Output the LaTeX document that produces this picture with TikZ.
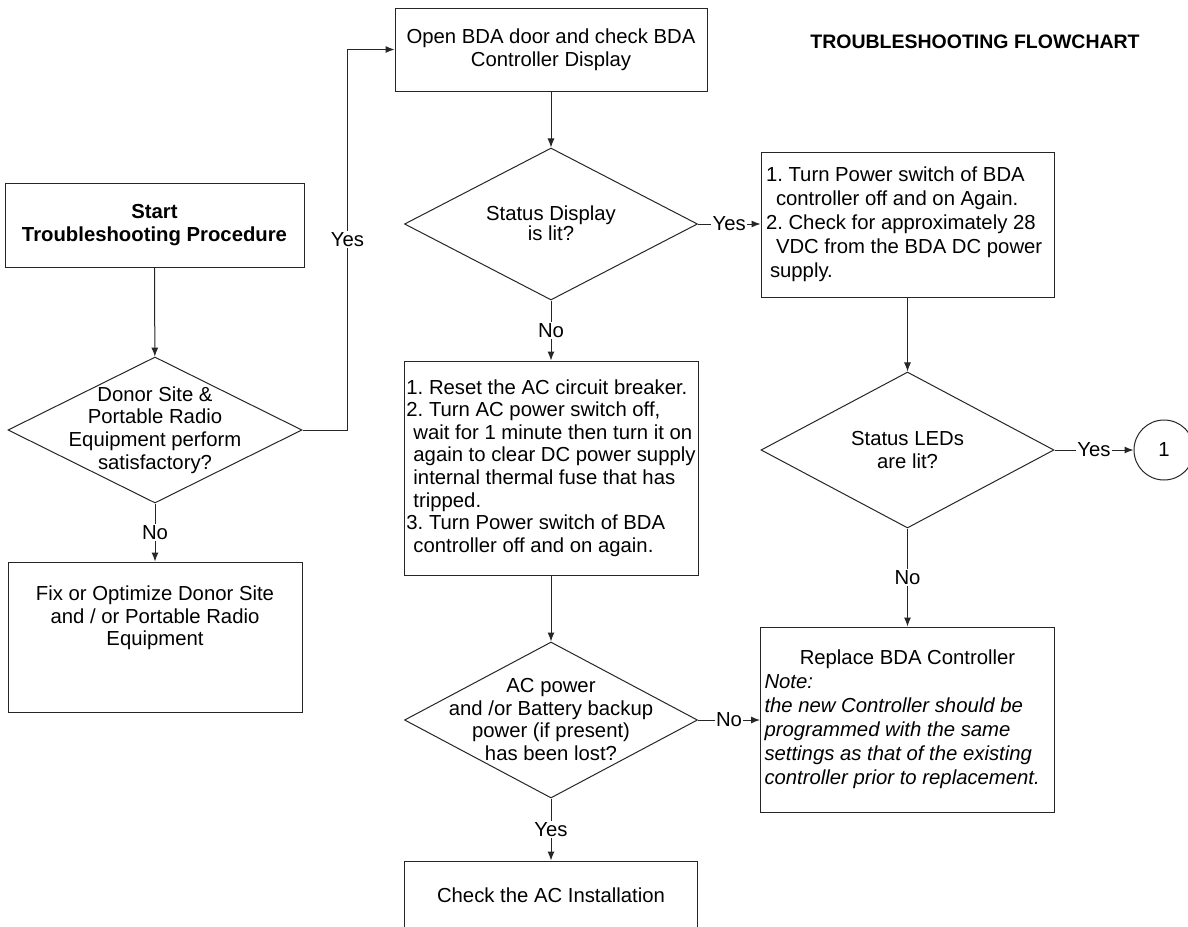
\documentclass[tikz,border=0pt]{standalone}
\usepackage{fontspec}
\setmainfont{Liberation Sans}
\usetikzlibrary{shapes.geometric,arrows.meta}
\newcommand{\fs}{\fontsize{20.3pt}{22.6pt}\selectfont\frenchspacing}
\newcommand{\fsw}{\fontsize{20.3pt}{24pt}\selectfont\frenchspacing}
\begin{document}
\begin{tikzpicture}[x=1pt,y=-1pt,
 line width=1pt,
 box/.style={draw=black!85, rectangle, inner sep=0pt, font=\fs, align=center},
 dia/.style={draw=black!85, diamond, inner sep=0pt},
 txt/.style={font=\fs, align=center, inner sep=0pt},
 arr/.style={draw=black!85, -{Latex[length=9pt,width=7pt]}},
 lab/.style={fill=white, font=\fs, inner sep=1.5pt},
]
\clip (0,0) rectangle (1188,926);
\fill[white] (0,0) rectangle (1188,926);

\node[txt, font=\fontsize{19.5pt}{22pt}\selectfont\bfseries] (title) at (975,42) {TROUBLESHOOTING FLOWCHART};

% left column
\node[box, minimum width=299pt, minimum height=84pt, font=\fs\bfseries] (start) at (154.5,225) {Start\\Troubleshooting Procedure};
\node[dia, minimum width=294pt, minimum height=146pt] (d1) at (155,430) {};
\node[txt] (d1t) at (155,430) {Donor Site \&\\Portable Radio\\Equipment perform\\satisfactory?};
\node[box, minimum width=294pt, minimum height=150pt] (fix) at (155,637) {};
\node[txt] (fixt) at (155,618) {Fix or Optimize Donor Site\\and / or Portable Radio\\Equipment};

% middle column
\node[box, minimum width=312pt, minimum height=83pt] (open) at (551,49.5) {Open BDA door and check BDA\\Controller Display};
\node[dia, minimum width=293pt, minimum height=152pt] (d2) at (551,224) {};
\node[txt, font=\fontsize{20.3pt}{20.5pt}\selectfont] (d2t) at (551,223) {Status Display\\is lit?};
\node[box, minimum width=294pt, minimum height=214pt, align=left] (reset) at (551,468) {\makebox[288pt][l]{1. Reset the AC circuit breaker.}\\2. Turn AC power switch off,\\\hspace*{7pt}wait for 1 minute then turn it on\\\hspace*{7pt}again to clear DC power supply\\\hspace*{7pt}internal thermal fuse that has\\\hspace*{7pt}tripped.\\3. Turn Power switch of BDA\\\hspace*{7pt}controller off and on again.};
\node[dia, minimum width=293pt, minimum height=156pt] (d4) at (551,720) {};
\node[txt] (d4t) at (551,719.5) {AC power\\and /or Battery backup\\power (if present)\\has been lost?};
\node[box, minimum width=293pt, minimum height=99pt] (check) at (551,910.5) {};
\node[txt] (checkt) at (551,895) {Check the AC Installation};

% right column
\node[box, minimum width=293pt, minimum height=145pt, align=left, font=\fsw] (b3) at (907.5,224.5) {\makebox[283pt][l]{1. Turn Power switch of BDA}\\\hspace*{10pt}controller off and on Again.\\2. Check for approximately 28\\\hspace*{10pt}VDC from the BDA DC power\\\hspace*{4pt}supply.};
\node[dia, minimum width=293pt, minimum height=156pt] (d3) at (907.5,450) {};
\node[txt] (d3t) at (907.5,450) {Status LEDs\\are lit?};
\node[draw=black!85, circle, minimum size=60pt, inner sep=0pt, font=\fs] (c1) at (1164,450) {1};
\node[box, minimum width=294pt, minimum height=185pt, align=left, font=\fsw] (rep) at (907.5,719.5) {\makebox[286pt][c]{Replace BDA Controller}\\\textit{Note:}\\\textit{the new Controller should be}\\\textit{programmed with the same}\\\textit{settings as that of the existing}\\\textit{controller prior to replacement.}};

% connectors
\draw[arr] (start) -- (d1);
\draw[arr] (d1) -- node[lab]{No} (fix);
\draw[arr] (d1.east) -- ++(45,0) |- node[lab,pos=0.25]{Yes} (open.west);
\draw[arr] (open) -- (d2);
\draw[arr] (d2) -- node[lab]{No} (reset);
\draw[arr] (d2.east) -- node[lab]{Yes} (d2.east -| b3.west);
\draw[arr] (b3) -- (d3);
\draw[arr] (d3) -- node[lab]{No} (rep);
\draw[arr] (d3.east) -- node[lab]{Yes} (c1.west);
\draw[arr] (reset) -- (d4);
\draw[arr] (d4) -- node[lab]{Yes} (check);
\draw[arr] (d4.east) -- node[lab]{No} (d4.east -| rep.west);
\end{tikzpicture}
\end{document}
